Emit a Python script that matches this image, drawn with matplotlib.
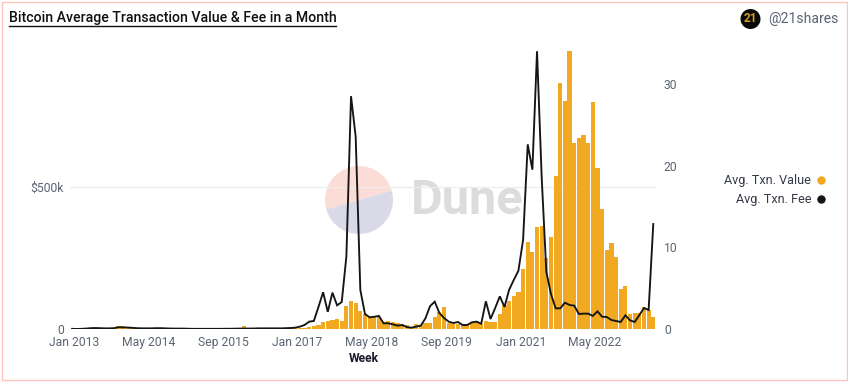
"""Bitcoin average transaction value and fee per month."""

import matplotlib
matplotlib.use("Agg")
import numpy as np
import matplotlib.pyplot as plt
from matplotlib.patches import Circle, Rectangle, Wedge

plt.rcParams["font.family"] = ["Roboto", "DejaVu Sans"]

# monthly values from Jan 2013, avg txn value in $k
avg_value_k = [
    1, 1, 1.5, 2, 2, 2.5, 3, 3, 3, 3.5,
    9.5, 9.5, 7, 4, 3, 3, 3.5, 3, 3, 3,
    2.5, 2.5, 2, 2, 2, 1.5, 1.5, 1.5, 1.5, 1.5,
    1.5, 1.5, 2, 2, 2.5, 3.5, 3.5, 10.5, 3.5, 4,
    4, 3, 3, 2.5, 2.5, 2.5, 2.5, 2.5, 2.5, 2.5,
    4.6, 8, 9, 14, 25, 29, 31, 34, 29, 81,
    99, 92, 62, 52, 43, 43, 42, 26, 28, 24,
    22, 19, 14, 8, 18, 14, 20, 22, 42, 60,
    76, 21, 19, 18, 16, 16, 25, 25, 18, 28,
    26, 25, 53, 83, 97, 116, 130, 211, 306, 271,
    359, 364, 250, 324, 539, 868, 803, 979, 654, 671,
    683, 656, 798, 567, 421, 278, 302, 253, 140, 150,
    52, 55, 56, 77, 67, 42,
]

# avg txn fee, right axis
avg_fee = [
    0.02, 0.0, 0.02, 0.05, 0.1, 0.12, 0.1, 0.08, 0.08, 0.1,
    0.22, 0.2, 0.18, 0.14, 0.1, 0.08, 0.08, 0.08, 0.1, 0.1,
    0.08, 0.06, 0.05, 0.05, 0.05, 0.03, 0.02, 0.02, 0.02, 0.02,
    0.02, 0.02, 0.02, 0.03, 0.03, 0.04, 0.05, 0.05, 0.06, 0.06,
    0.08, 0.08, 0.08, 0.08, 0.08, 0.08, 0.1, 0.12, 0.16, 0.29,
    0.49, 0.9, 0.98, 2.7, 4.5, 2.1, 4.45, 2.9, 3.3, 8.86,
    28.5, 23.55, 4.78, 1.84, 1.43, 1.5, 1.6, 0.7, 0.7, 0.57,
    0.41, 0.49, 0.24, 0.16, 0.29, 0.41, 1.3, 2.8, 3.35, 1.96,
    1.35, 0.9, 0.73, 0.86, 0.49, 0.49, 0.82, 0.9, 0.65, 3.39,
    1.22, 2.57, 4.0, 2.7, 4.8, 6.0, 7.14, 10.9, 22.6, 19.5,
    34.0, 18.6, 7.0, 4.28, 2.53, 2.53, 3.22, 2.94, 2.86, 1.84,
    1.88, 1.88, 1.6, 2.16, 1.5, 1.47, 1.1, 0.98, 0.86, 1.67,
    1.06, 0.86, 1.7, 2.57, 2.33, 12.85,
]

month_ticks = [0, 16, 32, 48, 64, 80, 96, 112]
month_labels = ["Jan 2013", "May 2014", "Sep 2015", "Jan 2017",
                "May 2018", "Sep 2019", "Jan 2021", "May 2022"]

W, H = 848, 382
ORANGE = "#f2a922"
BLACK = "#151515"
GREY = "#5b6472"

fig = plt.figure(figsize=(W / 100, H / 100), dpi=100)

# page furniture in pixel coordinates, behind the chart
bg = fig.add_axes([0, 0, 1, 1], zorder=-1)
bg.set_xlim(0, W)
bg.set_ylim(H, 0)
bg.axis("off")
bg.add_patch(Rectangle((1.5, 1.5), 845, 378, fill=False, ec="#ffc4be", lw=1))

# Dune watermark
bg.add_patch(Wedge((359, 200), 34, 164.3, 344.3, fc="#fcdcd6", ec="none"))
bg.add_patch(Wedge((359, 200), 34, 344.3, 164.3, fc="#d9d9e8", ec="none"))
bg.text(411, 201, "Dune", fontsize=35, fontweight="bold", color="#dcdcdc",
        va="center", ha="left")

# chart
values = np.array(avg_value_k)
fees = np.array(avg_fee)
x = np.arange(len(values))

left, right = 69.7, 655.6
top, bottom = 51, 329
ax = fig.add_axes([left / W, 1 - bottom / H, (right - left) / W, (bottom - top) / H])
ax.patch.set_visible(False)
ax.bar(x, values, width=0.9, color=ORANGE, linewidth=0, zorder=2)
ax.set_xlim(-0.5, len(values) - 0.5)
ax.set_ylim(0, 979)
ax.set_yticks([0, 500])
ax.set_yticklabels(["0", "$500k"])
ax.set_xticks(np.array(month_ticks) + 0.5)
ax.set_xticklabels(month_labels)
ax.tick_params(length=0, labelsize=8.7, labelcolor=GREY)
ax.tick_params(axis="x", pad=5)
ax.tick_params(axis="y", pad=4)
ax.grid(axis="y", color="#ececec", lw=0.8, zorder=0)
ax.set_axisbelow(True)
for s in ax.spines.values():
    s.set_visible(False)

ax2 = ax.twinx()
ax2.plot(x, fees, color=BLACK, lw=1.35, solid_joinstyle="miter")
ax2.set_ylim(0, 34.03)
ax2.set_yticks([0, 10, 20, 30])
ax2.tick_params(length=0, labelsize=8.7, labelcolor=GREY, pad=6)
for s in ax2.spines.values():
    s.set_visible(False)

# texts on top
fg = fig.add_axes([0, 0, 1, 1], zorder=5)
fg.set_xlim(0, W)
fg.set_ylim(H, 0)
fg.axis("off")
fg.text(9, 18, "Bitcoin Average Transaction Value & Fee in a Month",
        fontsize=10.15, fontweight="medium", color="#111111", va="center")
fg.plot([9, 336], [25.5, 25.5], color="#111111", lw=1)
fg.text(364, 358.5, "Week", fontsize=8.7, fontweight="bold", color="#1a1a2a",
        ha="center", va="center")

fg.add_patch(Circle((750.5, 19), 10, fc="#0a0a0a", ec="none"))
fg.text(750.5, 19, "21", fontsize=8.5, fontweight="bold", color="#d9a21f",
        ha="center", va="center")
fg.text(768, 19, "@21shares", fontsize=10.1, color=GREY, va="center")

fg.text(811, 180.5, "Avg. Txn. Value", fontsize=9.1, color="#333a46",
        ha="right", va="center")
fg.text(811, 199.5, "Avg. Txn. Fee", fontsize=9.1, color="#333a46",
        ha="right", va="center")
fg.add_patch(Circle((821.5, 180.5), 4.2, fc=ORANGE, ec="none"))
fg.add_patch(Circle((821.5, 199.5), 4.2, fc=BLACK, ec="none"))

fig.savefig("out.png", dpi=100)
plt.close(fig)
